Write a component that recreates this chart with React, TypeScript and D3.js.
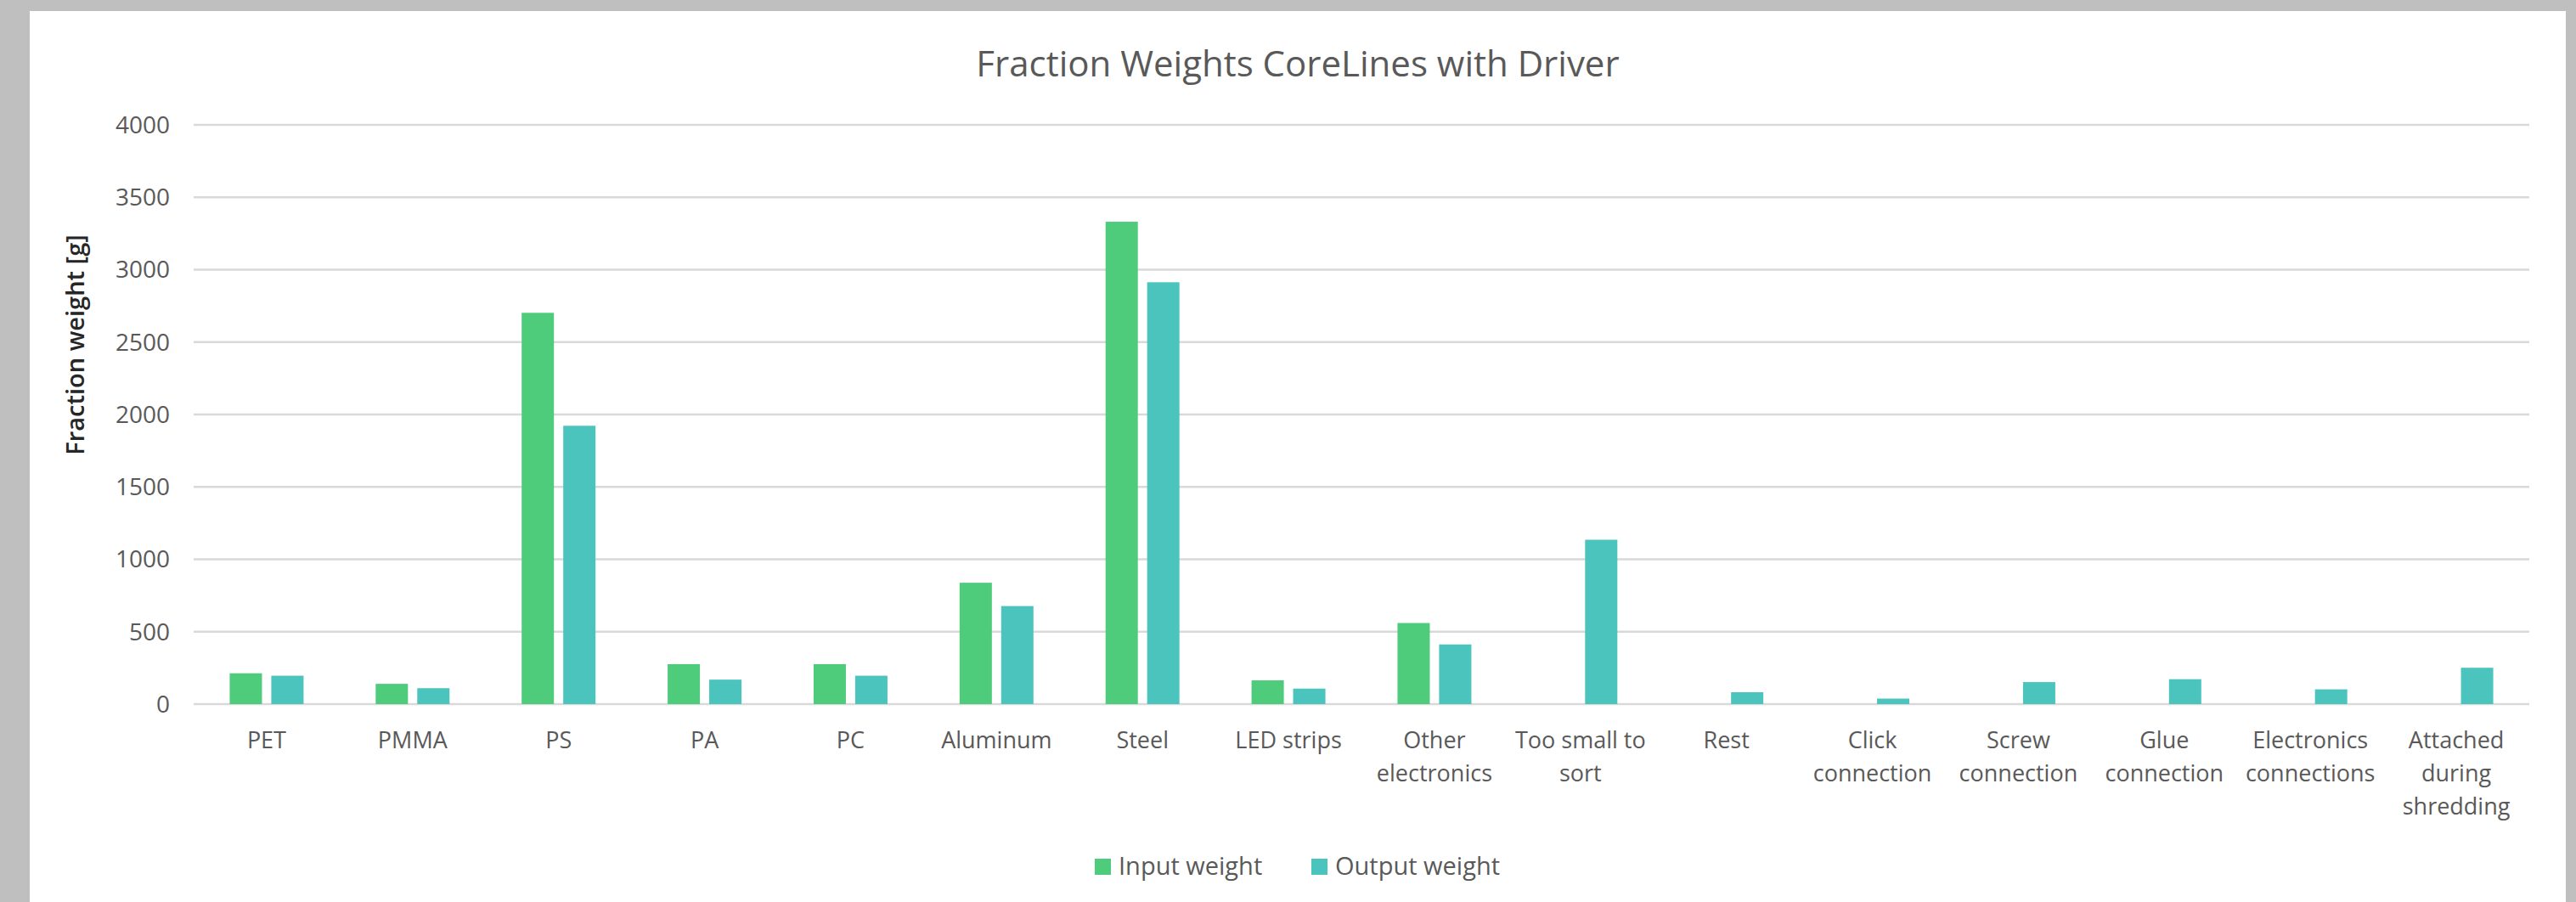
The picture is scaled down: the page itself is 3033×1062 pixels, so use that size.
import * as d3 from 'd3';
import React, { useEffect, useRef } from 'react';

const categories = [
  'PET',
  'PMMA',
  'PS',
  'PA',
  'PC',
  'Aluminum',
  'Steel',
  'LED strips',
  'Other\nelectronics',
  'Too small to\nsort',
  'Rest',
  'Click\nconnection',
  'Screw\nconnection',
  'Glue\nconnection',
  'Electronics\nconnections',
  'Attached\nduring\nshredding',
];

const seriesNames = ['Input weight', 'Output weight'];

const inputWeight: (number | null)[] = [213, 140, 2702, 276, 276, 838, 3331, 164, 560, null, null, null, null, null, null, null];
const outputWeight: (number | null)[] = [196, 110, 1922, 169, 196, 677, 2913, 107, 412, 1135, 82, 38, 152, 172, 102, 251];

const yTicks = [0, 500, 1000, 1500, 2000, 2500, 3000, 3500, 4000];

const colors = ['#4fcb7c', '#4bc4bd'];

const W = 3033;
const H = 1062;
const FONT = "'Open Sans', 'DejaVu Sans', sans-serif";

const App: React.FC = () => {
  const ref = useRef<SVGSVGElement | null>(null);

  useEffect(() => {
    if (!ref.current) return;
    const svg = d3.select(ref.current);
    svg.selectAll('*').remove();

    const plot = { left: 228, right: 2978, top: 147, bottom: 829 };

    // grey backdrop and white chart panel
    svg.append('rect').attr('width', W).attr('height', H).attr('fill', '#bfbfbf');
    svg.append('rect').attr('x', 35).attr('y', 13).attr('width', 3021 - 35).attr('height', H - 13).attr('fill', '#ffffff');

    const x0 = d3.scaleBand().domain(categories).range([plot.left, plot.right]).padding(0);
    const bw = x0.bandwidth();
    const pair = bw * 0.506;
    const x1 = d3
      .scaleBand()
      .domain(seriesNames)
      .range([(bw - pair) / 2, (bw + pair) / 2])
      .paddingInner(0.224)
      .paddingOuter(0);
    const y = d3.scaleLinear().domain([0, 4000]).range([plot.bottom, plot.top]);

    // Gridlines
    svg
      .append('g')
      .selectAll('line')
      .data(yTicks)
      .enter()
      .append('line')
      .attr('x1', plot.left)
      .attr('x2', plot.right)
      .attr('y1', (d) => y(d))
      .attr('y2', (d) => y(d))
      .attr('stroke', '#d9d9d9')
      .attr('stroke-width', 2.5);

    // Y tick labels
    svg
      .append('g')
      .selectAll('text')
      .data(yTicks)
      .enter()
      .append('text')
      .attr('x', 200)
      .attr('y', (d) => y(d))
      .attr('dy', '0.35em')
      .attr('text-anchor', 'end')
      .style('font-family', FONT)
      .style('font-size', '28px')
      .style('fill', '#595959')
      .text((d) => d);

    // Bars
    const series = [inputWeight, outputWeight];
    series.forEach((vals, si) => {
      svg
        .append('g')
        .attr('fill', colors[si])
        .selectAll('rect')
        .data(vals.map((v, i) => ({ v, c: categories[i] })).filter((d) => d.v != null))
        .enter()
        .append('rect')
        .attr('x', (d) => (x0(d.c) ?? 0) + (x1(seriesNames[si]) ?? 0))
        .attr('y', (d) => y(d.v as number))
        .attr('width', x1.bandwidth())
        .attr('height', (d) => y(0) - y(d.v as number));
    });

    // X labels (pre-wrapped)
    const xl = svg.append('g');
    categories.forEach((c) => {
      const t = xl
        .append('text')
        .attr('x', (x0(c) ?? 0) + bw / 2)
        .attr('y', 881)
        .attr('text-anchor', 'middle')
        .style('font-family', FONT)
        .style('font-size', '27px')
        .style('fill', '#595959');
      c.split('\n').forEach((line, li) => {
        t.append('tspan')
          .attr('x', (x0(c) ?? 0) + bw / 2)
          .attr('y', 881 + li * 39)
          .text(line);
      });
    });

    // Title
    svg
      .append('text')
      .attr('x', 1528)
      .attr('y', 90)
      .attr('text-anchor', 'middle')
      .style('font-family', FONT)
      .style('font-size', '42px')
      .style('fill', '#595959')
      .text('Fraction Weights CoreLines with Driver');

    // Y axis title
    svg
      .append('text')
      .attr('transform', 'translate(99,406) rotate(-90)')
      .attr('text-anchor', 'middle')
      .style('font-family', FONT)
      .style('font-size', '29px')
      .style('font-weight', 600)
      .style('fill', '#262626')
      .text('Fraction weight [g]');

    // Legend
    const legendX = [1289, 1544];
    const legend = svg.append('g');
    seriesNames.forEach((name, i) => {
      legend.append('rect').attr('x', legendX[i]).attr('y', 1011).attr('width', 19).attr('height', 19).attr('fill', colors[i]);
      legend
        .append('text')
        .attr('x', legendX[i] + 28)
        .attr('y', 1030)
        .style('font-family', FONT)
        .style('font-size', '29px')
        .style('fill', '#595959')
        .text(name);
    });
  }, []);

  return (
    <svg
      ref={ref}
      width={W}
      height={H}
      style={{ position: 'absolute', left: 0, top: 0, display: 'block' }}
    ></svg>
  );
};

export default App;
